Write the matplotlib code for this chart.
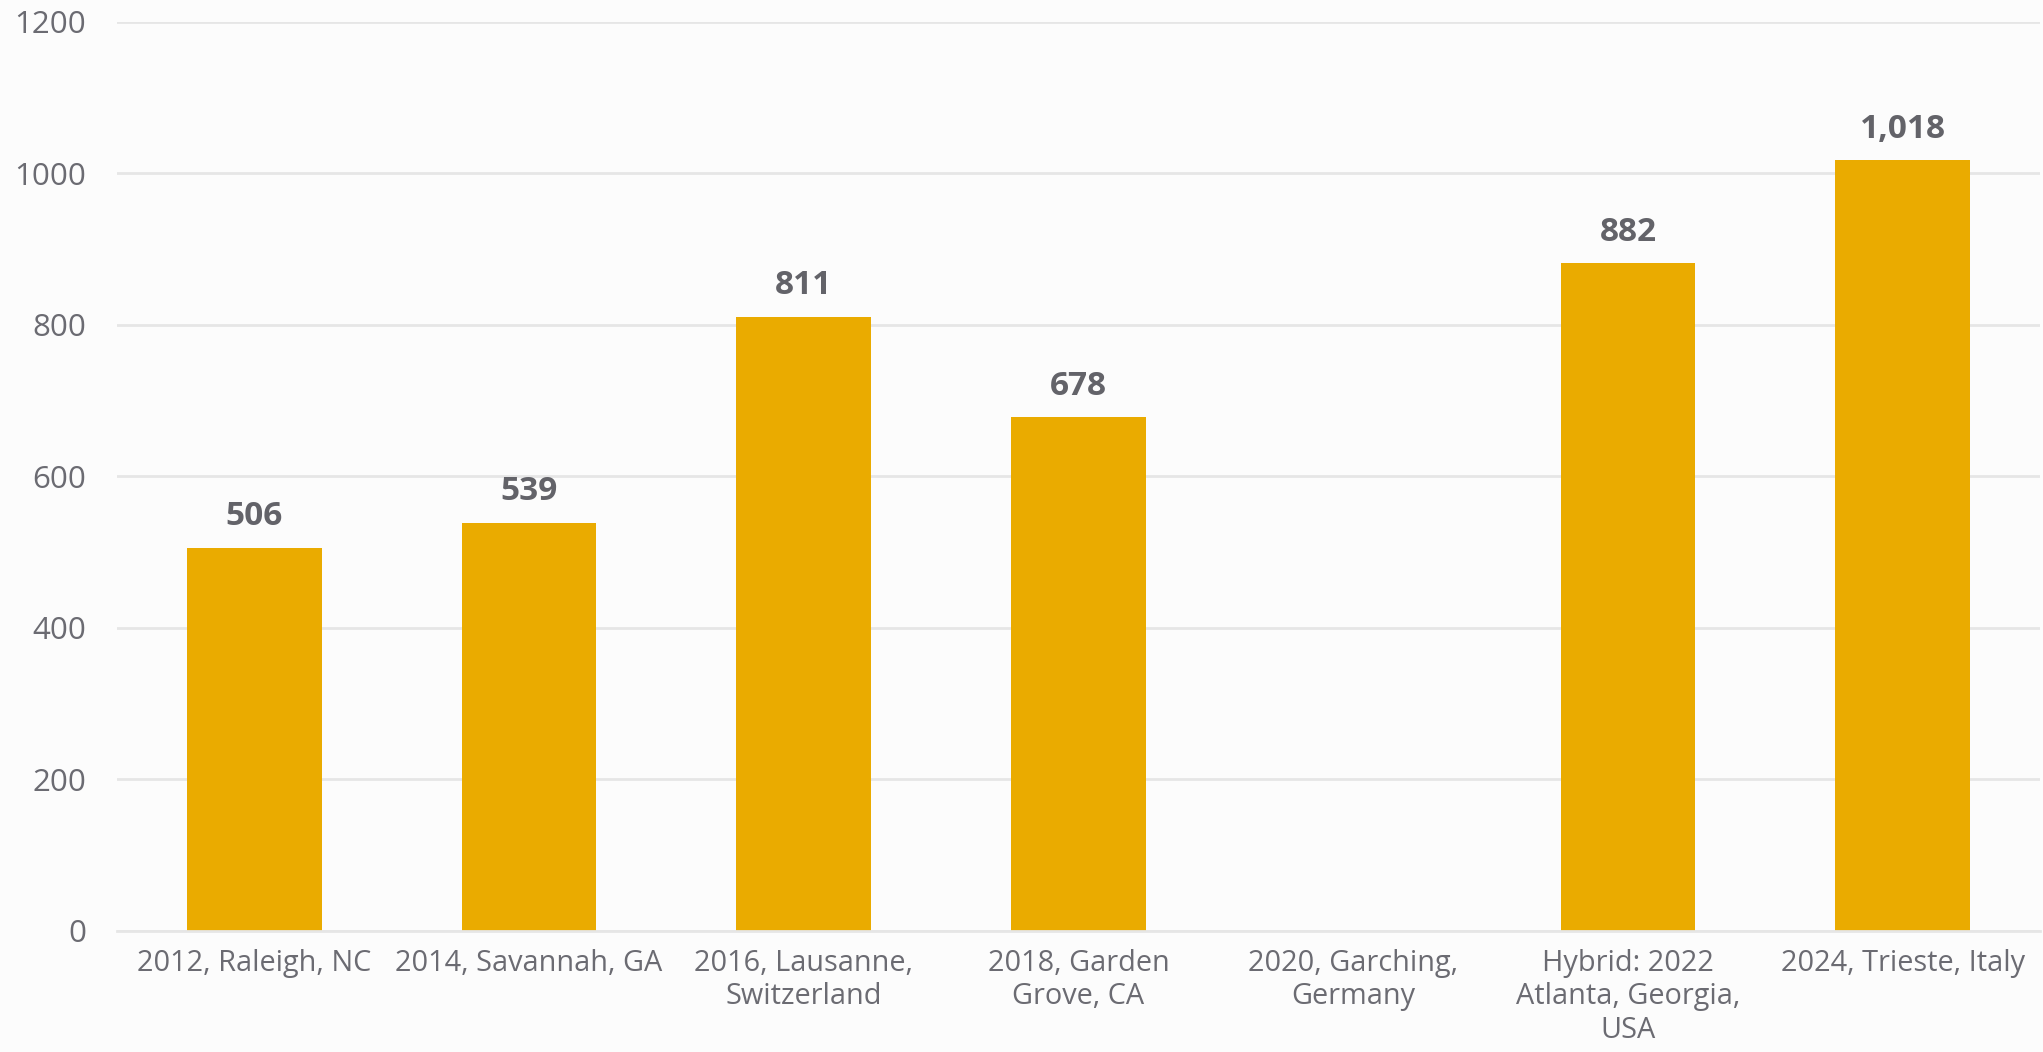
import numpy as np
from matplotlib import pyplot as plt

# registrations per meeting
categories = [
    "2012, Raleigh, NC",
    "2014, Savannah, GA",
    "2016, Lausanne,\nSwitzerland",
    "2018, Garden\nGrove, CA",
    "2020, Garching,\nGermany",
    "Hybrid: 2022\nAtlanta, Georgia,\nUSA",
    "2024, Trieste, Italy",
]
attendees = [506, 539, 811, 678, 0, 882, 1018]
y_ticks = [0, 200, 400, 600, 800, 1000, 1200]

bar_color = "#eaab00"
text_color = "#6b6b72"
grid_color = "#e6e6e6"
bg_color = "#fcfcfc"

fig = plt.figure(figsize=(20.43, 10.52), dpi=100, facecolor=bg_color)
ax = fig.add_axes([117 / 2043, 1 - 930.7 / 1052, (2040 - 117) / 2043, (930.7 - 22) / 1052])
ax.set_facecolor(bg_color)

x = np.arange(len(categories))
bars = ax.bar(x, attendees, width=0.49, color=bar_color, zorder=3)

# value labels above each bar (no bar for 2020)
for xi, val in zip(x, attendees):
    if val == 0:
        continue
    ax.annotate(f"{val:,}", (xi, val), xytext=(0, 16), textcoords="offset points",
                ha="center", va="baseline", fontsize=24, fontweight="bold",
                family="Open Sans", color="#636369")

ax.set_xlim(-0.5, len(categories) - 0.5)
ax.set_ylim(0, 1200)
ax.set_yticks(y_ticks)
ax.set_yticklabels([str(t) for t in y_ticks], family="Open Sans", fontsize=22.5, color=text_color)
ax.set_xticks(x)
ax.set_xticklabels(categories, family="Open Sans", fontsize=20.8, color=text_color,
                   va="top", linespacing=1.2)

ax.tick_params(axis="y", length=0, pad=22)
ax.tick_params(axis="x", length=0, pad=13)
ax.grid(axis="y", color=grid_color, linewidth=2, zorder=0)
for side in ["top", "right", "left"]:
    ax.spines[side].set_visible(False)
ax.spines["bottom"].set_color(grid_color)
ax.spines["bottom"].set_linewidth(2)
ax.spines["bottom"].set_zorder(4)

plt.savefig("out.png", dpi=100, facecolor=bg_color)
plt.close()
